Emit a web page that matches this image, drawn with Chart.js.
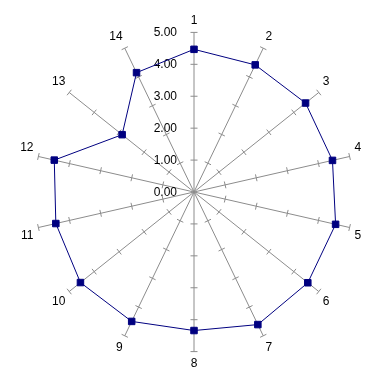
<!DOCTYPE html>
<html><head><meta charset="utf-8">
<script src="https://cdn.jsdelivr.net/npm/chart.js@4"></script>
<style>html,body{margin:0;padding:0;background:#fff}</style>
</head><body>
<canvas id="c" width="380" height="380"></canvas>
<script>
const categories = ['1','2','3','4','5','6','7','8','9','10','11','12','13','14'];
const values = [4.47, 4.42, 4.47, 4.45, 4.55, 4.56, 4.61, 4.34, 4.50, 4.55, 4.44, 4.49, 2.88, 4.15];
const tickValues = [0, 1, 2, 3, 4, 5];
const tickLabels = ['0.00', '1.00', '2.00', '3.00', '4.00', '5.00'];

const FONT = 'Arial, "Liberation Sans", sans-serif';

const spokeTicks = {
  id: 'spokeTicks',
  beforeDatasetsDraw(chart) {
    const s = chart.scales.r;
    const ctx = chart.ctx;
    ctx.save();
    ctx.strokeStyle = '#8c8c8c';
    ctx.lineWidth = 1;
    for (let i = 0; i < categories.length; i++) {
      const a = s.getIndexAngle(i) - Math.PI / 2;
      const px = -Math.sin(a), py = Math.cos(a);
      for (const v of tickValues) {
        if (v === 0) continue;
        const p = s.getPointPositionForValue(i, v);
        ctx.beginPath();
        ctx.moveTo(p.x - px * 3.5, p.y - py * 3.5);
        ctx.lineTo(p.x + px * 3.5, p.y + py * 3.5);
        ctx.stroke();
      }
    }
    ctx.fillStyle = '#000';
    ctx.font = '12px ' + FONT;
    ctx.textAlign = 'right';
    ctx.textBaseline = 'middle';
    tickValues.forEach((v, k) => {
      const p = s.getPointPositionForValue(0, v);
      ctx.fillText(tickLabels[k], p.x - 17, p.y + 0.5);
    });
    ctx.restore();
  }
};

new Chart(document.getElementById('c'), {
  type: 'radar',
  data: {
    labels: categories,
    datasets: [{
      data: values,
      borderColor: '#000080',
      borderWidth: 1,
      backgroundColor: 'rgba(0,0,0,0)',
      fill: false,
      pointStyle: 'rect',
      pointRadius: 4.6,
      pointBorderWidth: 1,
      pointBackgroundColor: '#000080',
      pointBorderColor: '#000080',
      tension: 0
    }]
  },
  options: {
    responsive: false,
    animation: false,
    layout: { padding: { left: 12, right: 10, top: 13, bottom: 9 } },
    plugins: { legend: { display: false }, tooltip: { enabled: false } },
    scales: {
      r: {
        min: 0,
        max: 5,
        ticks: { stepSize: 1, display: false },
        grid: { display: false },
        angleLines: { display: true, color: '#8c8c8c', lineWidth: 1 },
        pointLabels: { color: '#000', padding: 5, font: { size: 12, family: FONT } }
      }
    }
  },
  plugins: [spokeTicks]
});
</script>
</body></html>
